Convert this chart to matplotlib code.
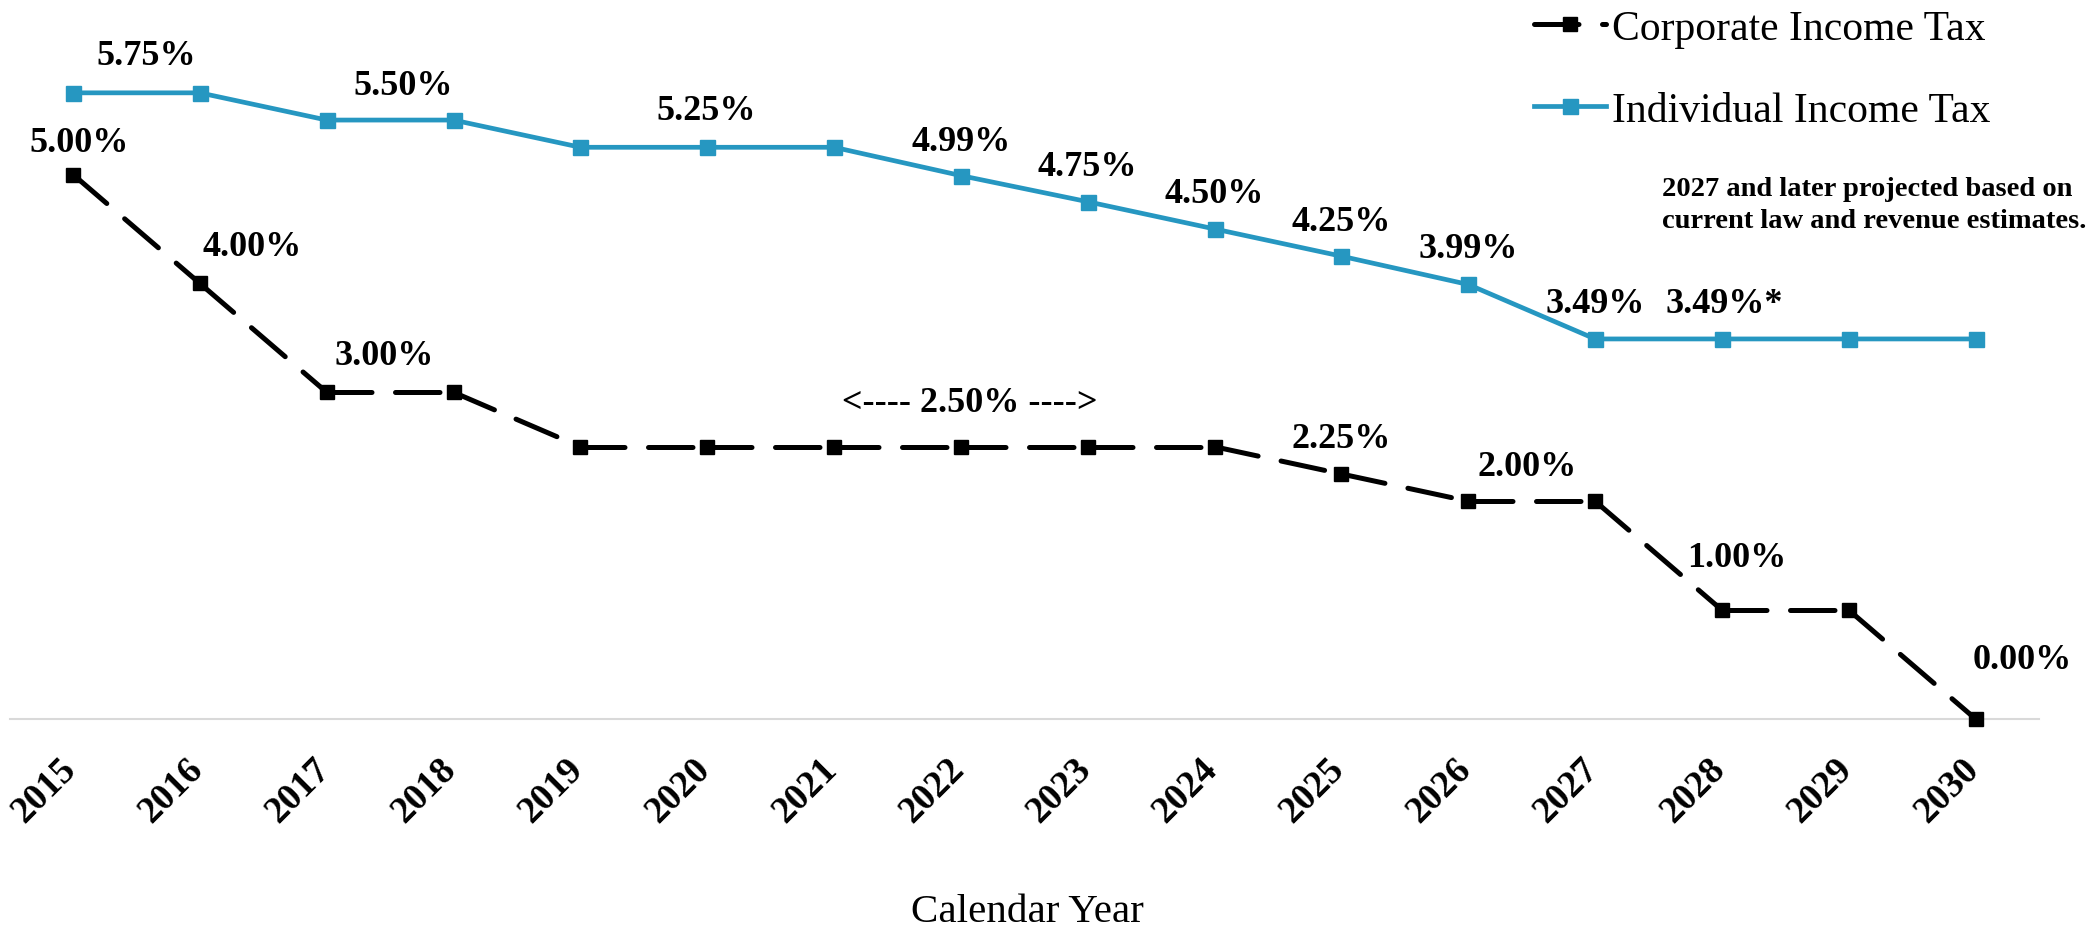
import matplotlib
matplotlib.use("Agg")
import matplotlib.pyplot as plt
from matplotlib.lines import Line2D
import matplotlib.transforms as mtransforms

plt.rcParams['font.family'] = ['Liberation Serif', 'DejaVu Serif']

years = [str(y) for y in range(2015, 2031)]
corporate = [5.00, 4.00, 3.00, 3.00, 2.50, 2.50, 2.50, 2.50, 2.50, 2.50, 2.25, 2.00, 2.00, 1.00, 1.00, 0.00]
individual = [5.75, 5.75, 5.50, 5.50, 5.25, 5.25, 5.25, 4.99, 4.75, 4.50, 4.25, 3.99, 3.49, 3.49, 3.49, 3.49]

series_names = ["Corporate Income Tax", "Individual Income Tax"]
note_text = "2027 and later projected based on\ncurrent law and revenue estimates."
x_title = "Calendar Year"

# labelled points: (index, prefix, suffix, offset in pixels)
ind_labels = [(1, "", "", (-54, 37)), (3, "", "", (-50, 35)), (5, "", "", (-1, 37)),
              (7, "", "", (0, 34)), (8, "", "", (0, 35)), (9, "", "", (0, 35)),
              (10, "", "", (0, 35)), (11, "", "", (0, 36)), (12, "", "", (0, 35)),
              (13, "", "*", (2, 35))]
corp_labels = [(0, "", "", (6, 32)), (1, "", "", (52, 37)), (2, "", "", (57, 37)),
               (7, "<---- ", " ---->", (9, 44)), (10, "", "", (0, 35)),
               (11, "", "", (59, 35)), (13, "", "", (15, 53)), (15, "", "", (47, 60))]

BLUE = "#2697C1"
BLACK = "#000000"

fig = plt.figure(figsize=(20.98, 9.29), dpi=100)
ax = fig.add_axes([0.00458, 0.22497, 0.96732, 0.70333])
x = list(range(len(years)))

# Individual line
ax.plot(x, individual, color=BLUE, lw=3.4, marker='s', ms=10.8, mec=BLUE, mfc=BLUE,
        solid_joinstyle='miter', clip_on=False, zorder=3)

# Corporate dashed line, pattern restarting at each point
for i in range(len(x) - 1):
    ax.plot(x[i:i + 2], corporate[i:i + 2], color=BLACK, lw=3.6, dashes=(8.9, 4.7),
            dash_capstyle='round', clip_on=False, zorder=3)
ax.plot(x, corporate, ls='none', marker='s', ms=10.5, mec=BLACK, mfc=BLACK,
        clip_on=False, zorder=4)

for idx, pre, post, off in ind_labels:
    ax.annotate(f"{pre}{individual[idx]:.2f}%{post}", xy=(x[idx], individual[idx]),
                xytext=off, textcoords='offset pixels', ha='center', va='center',
                fontsize=26, fontweight='bold', annotation_clip=False)
for idx, pre, post, off in corp_labels:
    ax.annotate(f"{pre}{corporate[idx]:.2f}%{post}", xy=(x[idx], corporate[idx]),
                xytext=off, textcoords='offset pixels', ha='center', va='center',
                fontsize=26, fontweight='bold', annotation_clip=False)

ax.set_xlim(-0.5, len(years) - 0.5)
ax.set_ylim(0, 6.0)
ax.set_xticks(x)
ax.set_xticklabels(years, rotation=45, ha='right', fontsize=27, fontweight='bold')
ax.tick_params(axis='x', length=0, pad=23)
shift = mtransforms.ScaledTranslation(10 / 100, 0, fig.dpi_scale_trans)
for lab in ax.get_xticklabels():
    lab.set_transform(lab.get_transform() + shift)
ax.set_yticks([])
for s in ['top', 'right', 'left']:
    ax.spines[s].set_visible(False)
ax.spines['bottom'].set_color('#D9D9D9')
ax.spines['bottom'].set_linewidth(1.5)
ax.patch.set_alpha(0)

fig.text(1027 / 2098, 1 - 922 / 929, x_title, ha='center', va='baseline', fontsize=29.5)

handles = [Line2D([], [], color=BLACK, lw=3.6, dashes=(8.9, 4.7), dash_capstyle='round',
                  marker='s', ms=10.5, mfc=BLACK, mec=BLACK),
           Line2D([], [], color=BLUE, lw=3.4, marker='s', ms=10.8, mfc=BLUE, mec=BLUE)]
fig.legend(handles, series_names, loc='upper left', bbox_to_anchor=(1534 / 2098, 1 - 10.5 / 929),
           frameon=False, fontsize=30, borderpad=0, borderaxespad=0, handlelength=1.73,
           handletextpad=0.14, labelspacing=1.04, numpoints=1)

fig.text(1662 / 2098, 1 - 177.5 / 929, note_text, ha='left', va='top', fontsize=20.5,
         fontweight='bold', linespacing=1.33)

fig.savefig("out.png", dpi=100)
